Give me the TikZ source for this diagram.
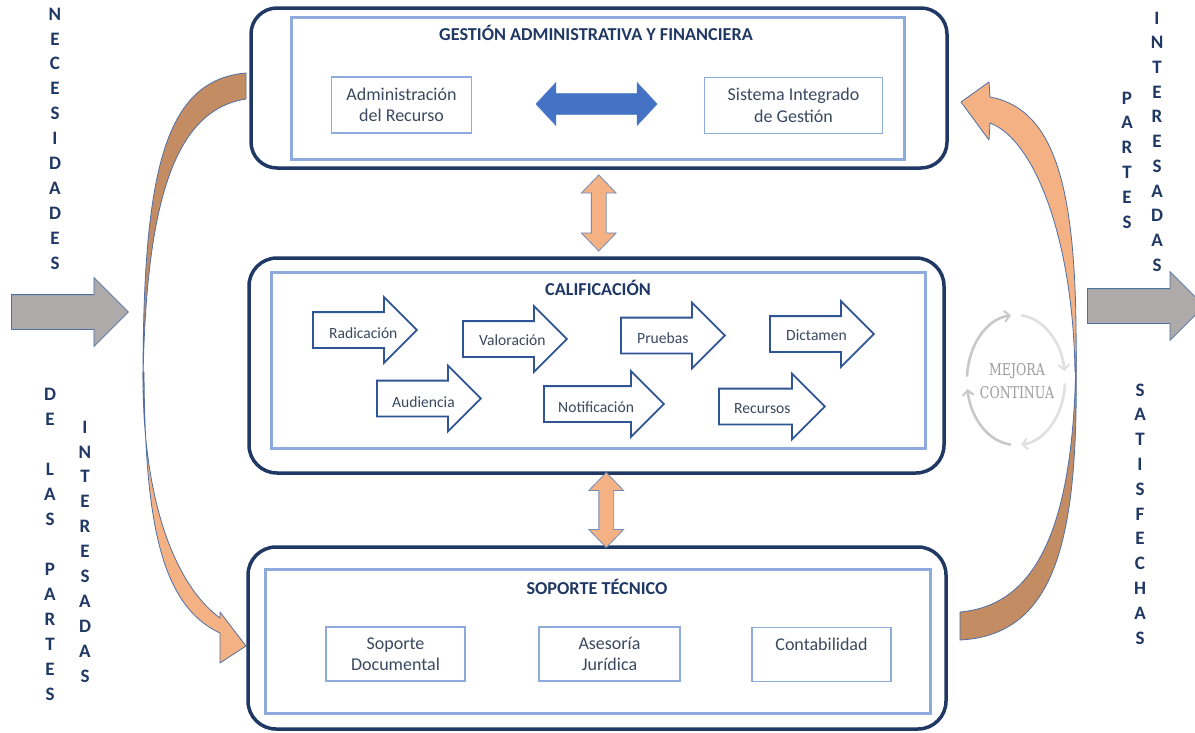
\documentclass[tikz,border=0pt]{standalone}
\usepackage{fontspec}
\setmainfont{Carlito}
\newfontfamily\mejorafont{DejaVu Serif}
\usetikzlibrary{shapes.arrows,calc,arrows.meta}
\definecolor{navy}{HTML}{203864}
\definecolor{lblue}{HTML}{8FAADC}
\definecolor{arrblue}{HTML}{2F5597}
\definecolor{dblue}{HTML}{4472C4}
\definecolor{orng}{HTML}{F4B183}
\definecolor{brwn}{HTML}{C48C62}
\definecolor{edgeblue}{HTML}{4F6FA5}
\definecolor{grayarr}{HTML}{AEAAAA}
\definecolor{txt}{HTML}{3A4960}
\definecolor{mejora}{HTML}{9C9C9C}
\definecolor{ringl}{HTML}{E0E0E0}
\definecolor{ringd}{HTML}{C8C8C8}
\begin{document}
\begin{tikzpicture}[x=1pt,y=-1pt,
  outerbox/.style={draw=navy, line width=3.5pt, rounded corners=26pt, inner sep=0pt},
  innerbox/.style={draw=lblue, line width=3pt, inner sep=0pt},
  itembox/.style={draw=lblue, line width=1.8pt, align=center, text=txt, inner sep=0pt,
    font=\fontsize{18}{21.5}\selectfont},
  titletext/.style={font=\bfseries\fontsize{18.2}{21}\selectfont, text=navy, inner sep=0pt},
  procarrow/.style={single arrow, draw=arrblue, line width=1.8pt, fill=white,
    text height=0pt, text depth=0pt, inner ysep=17pt, inner xsep=0pt,
    minimum height=104pt, minimum width=64pt,
    single arrow head extend=15pt, single arrow tip angle=90, anchor=tail},
  proclabel/.style={text=txt, font=\fontsize{15.6}{18}\selectfont, inner sep=0pt, anchor=west},
  grayarrow/.style={single arrow, draw=edgeblue, line width=0.8pt, fill=grayarr,
    text height=0pt, text depth=0pt, inner ysep=17pt, inner xsep=0pt,
    minimum height=117pt, minimum width=68pt, single arrow head extend=17pt,
    single arrow tip angle=90, anchor=tail},
  orangearrow/.style={double arrow, draw=edgeblue!80, line width=0.8pt, fill=orng,
    text height=0pt, text depth=0pt, inner ysep=7pt, inner xsep=0pt,
    minimum height=76pt, minimum width=34pt, double arrow head extend=10pt,
    double arrow tip angle=88, rotate=90},
  curvearrow/.style={draw=edgeblue, line width=0.8pt, line join=round},
  vletter/.style={font=\bfseries\fontsize{19}{19}\selectfont, text=navy, inner sep=0pt},
  ringarrow/.style={line width=2.6pt, -{Straight Barb[length=5pt,width=11pt,line width=2pt]}},
]
\useasboundingbox (0,0) rectangle (1195,732);
\fill[white] (0,0) rectangle (1195,732);

% curved arrows
\filldraw[curvearrow, fill=brwn] (246,73) .. controls (165,80) and (143,170) .. (143,380)
  .. controls (146,200) and (175,110) .. (246,99) -- cycle;
\filldraw[curvearrow, fill=orng] (143,372) .. controls (142,500) and (175,585) .. (220,618)
  -- (220,612) -- (246,646) -- (220,663) -- (220,633)
  .. controls (160,605) and (145,520) .. (144,372) -- cycle;
\filldraw[curvearrow, fill=brwn] (960,612) .. controls (1040,605) and (1075,520) .. (1076,350)
  .. controls (1079,530) and (1060,635) .. (960,640) -- cycle;
\filldraw[curvearrow, fill=orng] (1076,372) .. controls (1078,200) and (1060,110) .. (990,97)
  -- (989,82) -- (961,102) -- (989,140) -- (990,123)
  .. controls (1035,140) and (1073,240) .. (1075,372) -- cycle;

% main boxes
\node[outerbox, minimum width=696pt, minimum height=160pt] (top) at (599,88) {};
\node[innerbox, minimum width=613pt, minimum height=142pt] (topin) at (597.5,88) {};
\node[outerbox, rounded corners=28pt, minimum width=695pt, minimum height=215pt] (mid) at (596.5,365.5) {};
\node[innerbox, minimum width=654pt, minimum height=176pt] (midin) at (598,360) {};
\node[outerbox, rounded corners=28pt, minimum width=698pt, minimum height=182pt] (bot) at (597,638) {};
\node[innerbox, minimum width=665pt, minimum height=144pt] (botin) at (597.5,641) {};

% titles
\node[titletext] (t1) at (596,33) {GESTIÓN ADMINISTRATIVA Y FINANCIERA};
\node[titletext] (t2) at (598,288) {CALIFICACIÓN};
\node[titletext] (t3) at (597,587) {SOPORTE TÉCNICO};

% top items
\node[itembox, minimum width=140pt, minimum height=56pt] (admin) at (401.5,105) {Administración\\del Recurso};
\node[itembox, minimum width=178pt, minimum height=56pt] (sig) at (793.5,105.5) {Sistema Integrado\\de Gestión};
\node[double arrow, draw=dblue, line width=0.6pt, fill=dblue, text height=0pt, text depth=0pt,
  inner ysep=10pt, inner xsep=0pt, minimum height=121pt, minimum width=42pt,
  double arrow head extend=11pt, double arrow tip angle=94] (dbl) at (596.5,104) {};

% bottom items
\node[itembox, minimum width=139pt, minimum height=54pt] (sopdoc) at (395.5,654) {Soporte\\Documental};
\node[itembox, minimum width=141pt, minimum height=54pt] (ases) at (609.5,654) {Asesoría\\Jurídica};
\node[itembox, minimum width=139pt, minimum height=54pt] (cont) at (821.5,654.5) {Contabilidad\\\mbox{}};

% process arrows
\node[procarrow] (rad) at (312,330) {};
\node[procarrow] (val) at (462,339) {};
\node[procarrow] (pru) at (620,335.5) {};
\node[procarrow] (dic) at (769,334) {};
\node[procarrow] (aud) at (376,398.5) {};
\node[procarrow, minimum height=120pt] (noti) at (543,404) {};
\node[procarrow, minimum height=106pt] (recu) at (718,406.5) {};
\node[proclabel] (radt) at ($(rad.tail)+(17,3.5)$) {Radicación};
\node[proclabel] (valt) at ($(val.tail)+(17,1)$) {Valoración};
\node[proclabel] (prut) at ($(pru.tail)+(17,3)$) {Pruebas};
\node[proclabel] (dict) at ($(dic.tail)+(17,1.5)$) {Dictamen};
\node[proclabel] (audt) at ($(aud.tail)+(16,3.5)$) {Audiencia};
\node[proclabel] (notit) at ($(noti.tail)+(15,3)$) {Notificación};
\node[proclabel] (recut) at ($(recu.tail)+(16,2)$) {Recursos};

% orange connectors
\node[orangearrow] (c1) at ($(top.south)!0.5!(mid.north)+(1,0)$) {};
\node[orangearrow, minimum height=75pt, minimum width=33pt] (c2) at ($(mid.south)!0.5!(bot.north)+(9.5,0)$) {};

% gray arrows
\node[grayarrow] (inarr) at (11,312) {};
\node[grayarrow, minimum width=67pt] (outarr) at (1087,306) {};

% mejora continua
\draw[ringarrow, draw=ringl] ({1016+49*cos(-84)},{380+65*sin(-84)}) arc[start angle=-84, end angle=-8, x radius=49, y radius=65];
\draw[ringarrow, draw=ringl] ({1016+49*cos(3)},{380+65*sin(3)}) arc[start angle=3, end angle=84, x radius=49, y radius=65];
\draw[ringarrow, draw=ringd] ({1016+49*cos(96)},{380+65*sin(96)}) arc[start angle=96, end angle=172, x radius=49, y radius=65];
\draw[ringarrow, draw=ringd] ({1016+49*cos(183)},{380+65*sin(183)}) arc[start angle=183, end angle=264, x radius=49, y radius=65];
\node[font=\mejorafont\fontsize{12.5}{23}\selectfont, text=mejora, align=center, inner sep=0pt] (mc) at (1017,381)
  {\scalebox{1}[1.3]{MEJORA}\\\scalebox{1}[1.3]{CONTINUA}};

% vertical texts
\foreach \l [count=\i from 0] in {N,E,C,E,S,I,D,A,D,E,S}
  \node[vletter] (nec\i) at (55,{14+24.9*\i}) {\l};
\foreach \l/\k [count=\i] in {D/0,E/1,L/3,A/4,S/5,P/7,A/8,R/9,T/10,E/11,S/12}
  \node[vletter] (dlp\i) at (50,{394.5+25*\k}) {\l};
\foreach \l [count=\i from 0] in {I,N,T,E,R,E,S,A,D,A,S}
  \node[vletter] (intl\i) at (85,{427+24.9*\i}) {\l};
\foreach \l [count=\i from 0] in {P,A,R,T,E,S}
  \node[vletter] (par\i) at (1127,{98+24.8*\i}) {\l};
\foreach \l [count=\i from 0] in {I,N,T,E,R,E,S,A,D,A,S}
  \node[vletter] (intr\i) at (1157,{18+24.7*\i}) {\l};
\foreach \l [count=\i from 0] in {S,A,T,I,S,F,E,C,H,A,S}
  \node[vletter] (sat\i) at (1140,{390+24.8*\i}) {\l};
\end{tikzpicture}
\end{document}
